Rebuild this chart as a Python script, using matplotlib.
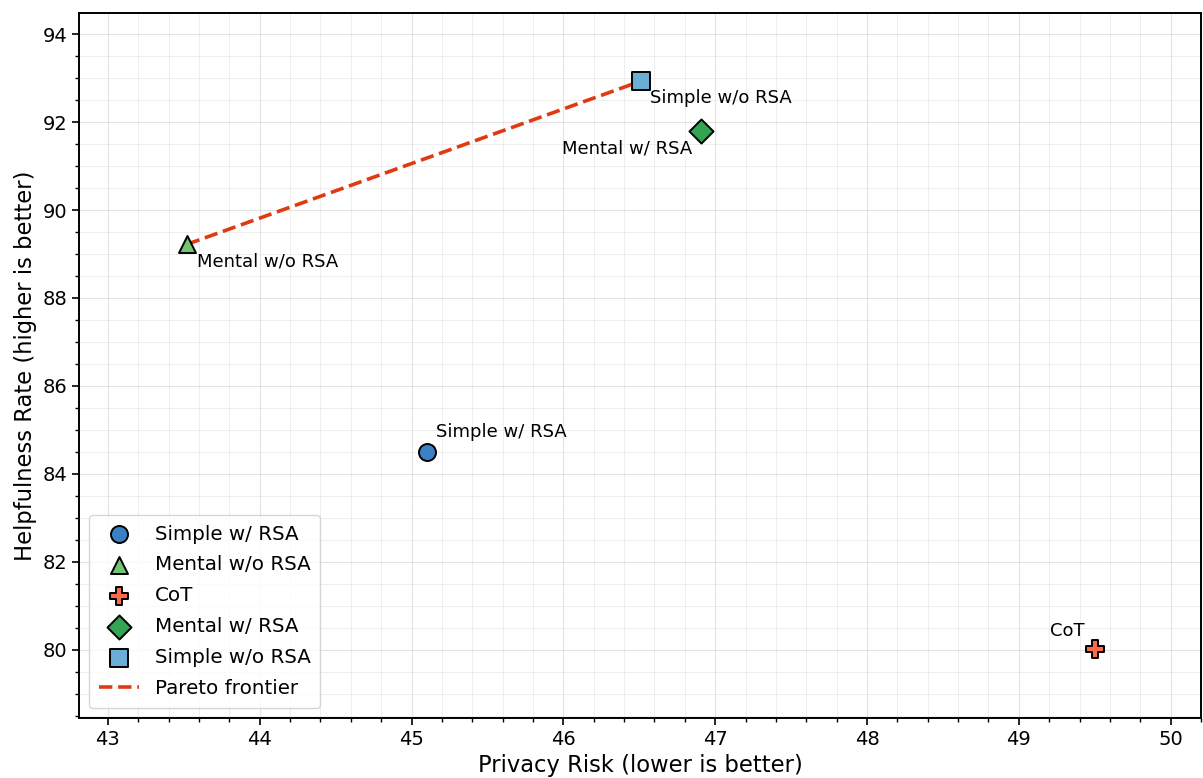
import matplotlib
matplotlib.use("Agg")
import matplotlib.pyplot as plt
from matplotlib.ticker import MultipleLocator

# data
methods = ["Simple w/ RSA", "Mental w/o RSA", "CoT", "Mental w/ RSA", "Simple w/o RSA"]
privacy = [45.1, 43.52, 49.5, 46.91, 46.51]
helpful = [84.5, 89.22, 80.03, 91.8, 92.93]
markers = ["o", "^", "P", "D", "s"]
colors = ["#3a80c4", "#74c476", "#f96a4f", "#33a354", "#6aaed6"]
# label offsets in points and alignment
offsets = [(7, 8, "left", "bottom"), (7, -6, "left", "top"), (-7, 6, "right", "bottom"),
           (-7, -6, "right", "top"), (7, -6, "left", "top")]

pareto = ["Mental w/o RSA", "Simple w/o RSA"]

fig, ax = plt.subplots(figsize=(12.03, 7.78), dpi=100)
fig.subplots_adjust(left=0.0657, right=0.9983, top=0.9833, bottom=0.0771)

for name, x, y, m, c in zip(methods, privacy, helpful, markers, colors):
    ax.scatter(x, y, marker=m, s=150, color=c, edgecolor="black", linewidth=1.4,
               label=name, zorder=3)

px = [privacy[methods.index(n)] for n in pareto]
py = [helpful[methods.index(n)] for n in pareto]
ax.plot(px, py, "--", color="#e03a12", linewidth=2.6, label="Pareto frontier", zorder=2)

for name, x, y, (dx, dy, ha, va) in zip(methods, privacy, helpful, offsets):
    ax.annotate(name, (x, y), xytext=(dx, dy), textcoords="offset points",
                ha=ha, va=va, fontsize=13)

ax.set_xlim(42.81, 50.2)
ax.set_ylim(78.45, 94.48)
ax.xaxis.set_major_locator(MultipleLocator(1))
ax.xaxis.set_minor_locator(MultipleLocator(0.2))
ax.yaxis.set_major_locator(MultipleLocator(2))
ax.yaxis.set_minor_locator(MultipleLocator(0.5))
ax.grid(which="major", color="#dddddd", linewidth=0.8, alpha=0.8)
ax.grid(which="minor", color="#e6e6e6", linewidth=0.6, alpha=0.8)
ax.set_axisbelow(True)
ax.tick_params(labelsize=14, length=5, width=1.2)
ax.tick_params(which="minor", length=3, width=1.0)
for s in ax.spines.values():
    s.set_linewidth(1.4)

ax.set_xlabel("Privacy Risk (lower is better)", fontsize=16.3)
ax.set_ylabel("Helpfulness Rate (higher is better)", fontsize=16.3)
ax.legend(loc="lower left", fontsize=14.3, labelspacing=0.6, borderpad=0.5)

plt.savefig("out.png")
